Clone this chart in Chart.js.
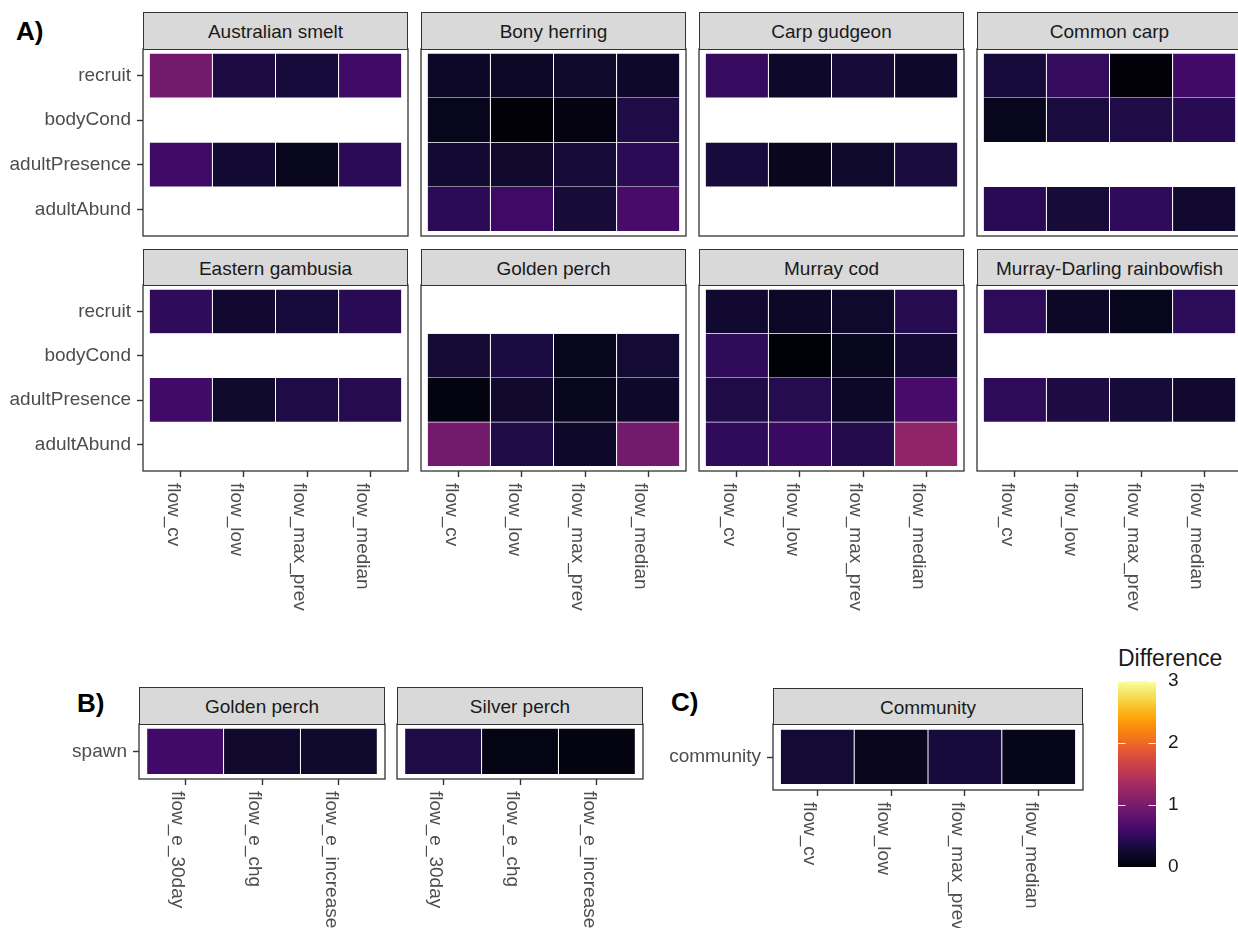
<!DOCTYPE html>
<html>
<head>
<meta charset="utf-8">
<script src="https://cdn.jsdelivr.net/npm/chart.js@4.4.1/dist/chart.umd.min.js"></script>
<style>
html,body{margin:0;padding:0;background:#fff;}
body{width:1238px;height:928px;position:relative;overflow:hidden;font-family:"Liberation Sans",Arial,sans-serif;}
.strip{position:absolute;box-sizing:border-box;background:#d9d9d9;border:1px solid #333;color:#1a1a1a;font-size:19px;text-align:center;white-space:nowrap;padding-top:1px;}
.tag{position:absolute;font-weight:bold;font-size:26px;line-height:26px;color:#000;}
.legtitle{position:absolute;font-size:23px;line-height:23px;color:#1a1a1a;white-space:nowrap;}
canvas{position:absolute;}
</style>
</head>
<body>
<script>
// ---------------- data ----------------
const flowVars = ['flow_cv', 'flow_low', 'flow_max_prev', 'flow_median'];
const responseRows = ['recruit', 'bodyCond', 'adultPresence', 'adultAbund'];
const spawnVars = ['flow_e_30day', 'flow_e_chg', 'flow_e_increase'];
const spawnRows = ['spawn'];
const communityRows = ['community'];
const legendTicks = [0, 1, 2, 3];

// rows: recruit, bodyCond, adultPresence, adultAbund ; cols: flow_cv, flow_low, flow_max_prev, flow_median
const australianSmelt = [[0.97, 0.36, 0.31, 0.58], [null, null, null, null], [0.58, 0.26, 0.12, 0.46], [null, null, null, null]];
const bonyHerring = [[0.19, 0.17, 0.21, 0.20], [0.12, 0.03, 0.07, 0.37], [0.26, 0.22, 0.30, 0.46], [0.46, 0.58, 0.30, 0.64]];
const carpGudgeon = [[0.53, 0.20, 0.30, 0.20], [null, null, null, null], [0.31, 0.13, 0.23, 0.32], [null, null, null, null]];
const commonCarp = [[0.31, 0.52, 0.03, 0.60], [0.12, 0.32, 0.37, 0.44], [null, null, null, null], [0.45, 0.30, 0.50, 0.24]];
const easternGambusia = [[0.50, 0.24, 0.31, 0.45], [null, null, null, null], [0.59, 0.21, 0.37, 0.43], [null, null, null, null]];
const goldenPerchA = [[null, null, null, null], [0.27, 0.35, 0.12, 0.28], [0.06, 0.22, 0.14, 0.20], [0.97, 0.37, 0.20, 0.97]];
const murrayCod = [[0.24, 0.19, 0.23, 0.43], [0.49, 0.02, 0.14, 0.26], [0.37, 0.42, 0.19, 0.64], [0.50, 0.55, 0.40, 1.17]];
const mdRainbowfish = [[0.48, 0.19, 0.12, 0.47], [null, null, null, null], [0.48, 0.36, 0.30, 0.24], [null, null, null, null]];
// spawn: flow_e_30day, flow_e_chg, flow_e_increase
const goldenPerchSpawn = [[0.60, 0.22, 0.23]];
const silverPerchSpawn = [[0.37, 0.08, 0.06]];
// community
const communityVals = [[0.28, 0.13, 0.31, 0.11]];

// ---------------- colour scale (inferno, 0..3) ----------------
const INFERNO = ['#000004','#0a0722','#160b39','#290b55','#420a68','#570f6d','#6a176e','#7f1e6c','#932667','#a62c60','#bc3754',
                 '#cb4249','#dd513a','#e9602d','#f37819','#fa8b0d','#fca50a','#fbbb24','#f6d746','#f4eb72','#fcffa4'];
const LIMIT = 3;
function hexRgb(h){return [parseInt(h.slice(1,3),16),parseInt(h.slice(3,5),16),parseInt(h.slice(5,7),16)];}
function inferno(v){
  let t = Math.max(0, Math.min(1, v / LIMIT)) * (INFERNO.length - 1);
  const i = Math.min(INFERNO.length - 2, Math.floor(t)), f = t - i;
  const a = hexRgb(INFERNO[i]), b = hexRgb(INFERNO[i+1]);
  return 'rgb(' + a.map((c,k)=>Math.round(c + (b[k]-c)*f)).join(',') + ')';
}

const FONT = '"Liberation Sans", Arial, sans-serif';
Chart.defaults.font.family = FONT;

// ---------------- plugins ----------------
const panelBorder = {
  id: 'panelBorder',
  afterDraw(chart){
    const a = chart.chartArea, c = chart.ctx;
    c.save(); c.strokeStyle = '#333'; c.lineWidth = 1.3;
    c.strokeRect(a.left, a.top, a.right - a.left, a.bottom - a.top);
    c.restore();
  }
};
const rotatedXLabels = {
  id: 'rotatedXLabels',
  afterDraw(chart){
    const xs = chart.scales.x;
    if (!xs || !xs.options.display) return;
    const c = chart.ctx;
    c.save();
    c.font = '19px ' + FONT; c.fillStyle = '#4d4d4d';
    c.textAlign = 'left'; c.textBaseline = 'alphabetic';
    xs.ticks.forEach((t, i) => {
      const x = xs.getPixelForTick(i), y = chart.chartArea.bottom + 12;
      c.save(); c.translate(x, y); c.rotate(Math.PI / 2);
      c.fillText(t.label, 0, 13);
      c.restore();
    });
    c.restore();
  }
};

function zeroPad(s){ s.paddingTop = 0; s.paddingBottom = 0; s.paddingLeft = 0; s.paddingRight = 0; }

function addDiv(cls, text, css){
  const d = document.createElement('div');
  d.className = cls; d.textContent = text;
  Object.assign(d.style, css);
  document.body.appendChild(d);
  return d;
}

// ---------------- heatmap panel ----------------
function heatPanel(o){
  const yW = o.showY ? o.yAxisW : 0;
  const xH = o.showX ? 150 : 0;
  const padL = o.showY ? 0 : 2, padT = 2, padR = 2, padB = o.showX ? 0 : 2;
  const cLeft = o.left - yW - padL, cTop = o.top - padT;
  const W = padL + yW + o.width + padR, H = padT + (o.bottom - o.top) + xH + padB;
  const cv = document.createElement('canvas');
  cv.width = W; cv.height = H;
  cv.style.left = cLeft + 'px'; cv.style.top = cTop + 'px';
  document.body.appendChild(cv);

  // strip
  const sh = o.top - o.stripTop + 1;
  addDiv('strip', o.title, {left: o.left + 'px', top: o.stripTop + 'px', width: o.width + 'px', height: sh + 'px', lineHeight: (sh - 2) + 'px'});

  const datasets = o.rows.map((r, ri) => ({
    label: r,
    data: o.cols.map((c, ci) => ({x: ci, y: [ri - 0.5, ri + 0.5], v: o.values[ri][ci]})).filter(d => d.v !== null),
    backgroundColor: ctx => (ctx.raw ? inferno(ctx.raw.v) : 'rgba(0,0,0,0)'),
    borderColor: 'rgba(255,255,255,0.28)',
    borderWidth: 0.5,
    barPercentage: 1, categoryPercentage: 1, grouped: false, inflateAmount: 0
  })).filter(ds => ds.data.length);

  new Chart(cv, {
    type: 'bar',
    data: {datasets},
    options: {
      responsive: false, maintainAspectRatio: false, animation: false, devicePixelRatio: 1, events: [],
      layout: {padding: {left: padL, top: padT, right: padR, bottom: padB}},
      plugins: {legend: {display: false}, tooltip: {enabled: false}},
      scales: {
        x: {
          type: 'linear', display: o.showX, offset: false, min: -0.6, max: o.cols.length - 0.4,
          afterBuildTicks: s => { s.ticks = o.cols.map((_, i) => ({value: i})); },
          afterFit: s => { s.height = xH; zeroPad(s); },
          ticks: {autoSkip: false, maxRotation: 0, color: 'rgba(0,0,0,0)', callback: v => o.cols[v], font: {size: 19}},
          grid: {offset: false, drawOnChartArea: false, drawTicks: true, tickLength: 6, tickColor: '#333', tickWidth: 1.4, color: '#333'},
          border: {display: false}
        },
        y: {
          type: 'linear', display: o.showY, offset: false, reverse: true, min: -0.6, max: o.rows.length - 0.4,
          afterBuildTicks: s => { s.ticks = o.rows.map((_, i) => ({value: i})); },
          afterFit: s => { s.width = yW; zeroPad(s); },
          ticks: {autoSkip: false, color: '#4d4d4d', padding: 6, callback: v => o.rows[v], font: {size: 19}},
          grid: {offset: false, drawOnChartArea: false, drawTicks: true, tickLength: 6, tickColor: '#333', tickWidth: 1.4, color: '#333'},
          border: {display: false}
        }
      }
    },
    plugins: [panelBorder, rotatedXLabels]
  });
}

// ---------------- layout ----------------
const A_LEFTS = [143, 421, 699, 977];
const A_W = 265;
const A_BANDS = [{stripTop: 12, top: 49, bottom: 236}, {stripTop: 249, top: 285, bottom: 471}];
const A_PANELS = [
  ['Australian smelt', australianSmelt], ['Bony herring', bonyHerring], ['Carp gudgeon', carpGudgeon], ['Common carp', commonCarp],
  ['Eastern gambusia', easternGambusia], ['Golden perch', goldenPerchA], ['Murray cod', murrayCod], ['Murray-Darling rainbowfish', mdRainbowfish]
];
A_PANELS.forEach(([title, vals], k) => {
  const r = Math.floor(k / 4), c = k % 4, band = A_BANDS[r];
  heatPanel({title, values: vals, rows: responseRows, cols: flowVars,
    left: A_LEFTS[c], width: A_W, stripTop: band.stripTop, top: band.top, bottom: band.bottom,
    showY: c === 0, yAxisW: 143, showX: r === 1});
});

const B_PANELS = [['Golden perch', goldenPerchSpawn, 139], ['Silver perch', silverPerchSpawn, 397]];
B_PANELS.forEach(([title, vals, left], k) => {
  heatPanel({title, values: vals, rows: spawnRows, cols: spawnVars,
    left, width: 246, stripTop: 687, top: 724, bottom: 779,
    showY: k === 0, yAxisW: 139, showX: true});
});

heatPanel({title: 'Community', values: communityVals, rows: communityRows, cols: flowVars,
  left: 773, width: 310, stripTop: 688, top: 724, bottom: 790, showY: true, yAxisW: 140, showX: true});

addDiv('tag', 'A)', {left: '16px', top: '18px'});
addDiv('tag', 'B)', {left: '77px', top: '690px'});
addDiv('tag', 'C)', {left: '671px', top: '689px'});

// ---------------- colour bar legend ----------------
addDiv('legtitle', 'Difference', {left: '1118px', top: '647px'});
(function(){
  const barL = 1118, barW = 38, top = 681, bottom = 867, padTB = 14, axisW = 60;
  const cv = document.createElement('canvas');
  cv.width = barW + axisW; cv.height = (bottom - top) + 2 * padTB;
  cv.style.left = barL + 'px'; cv.style.top = (top - padTB) + 'px';
  document.body.appendChild(cv);
  const ticksPlugin = {
    id: 'cbTicks',
    afterDatasetsDraw(chart){
      const ys = chart.scales.y, a = chart.chartArea, c = chart.ctx;
      c.save(); c.strokeStyle = 'rgba(255,255,255,0.9)'; c.lineWidth = 1;
      legendTicks.forEach(v => {
        const y = Math.round(ys.getPixelForValue(v)) + 0.5;
        c.beginPath(); c.moveTo(a.left, y); c.lineTo(a.left + 7.5, y);
        c.moveTo(a.right - 7.5, y); c.lineTo(a.right, y); c.stroke();
      });
      c.restore();
    }
  };
  new Chart(cv, {
    type: 'bar',
    data: {labels: ['Difference'], datasets: [{
      data: [[legendTicks[0], legendTicks[legendTicks.length - 1]]],
      backgroundColor: ctx => {
        const ch = ctx.chart, ys = ch.scales.y;
        if (!ch.chartArea || !ys) return '#000';
        const g = ch.ctx.createLinearGradient(0, ys.getPixelForValue(0), 0, ys.getPixelForValue(LIMIT));
        INFERNO.forEach((col, i) => g.addColorStop(i / (INFERNO.length - 1), col));
        return g;
      },
      borderWidth: 0, barPercentage: 1, categoryPercentage: 1, inflateAmount: 0
    }]},
    options: {
      responsive: false, maintainAspectRatio: false, animation: false, devicePixelRatio: 1, events: [],
      layout: {padding: {left: 0, top: padTB, right: 0, bottom: padTB}},
      plugins: {legend: {display: false}, tooltip: {enabled: false}},
      scales: {
        x: {display: false},
        y: {
          position: 'right', min: 0, max: LIMIT,
          afterBuildTicks: s => { s.ticks = legendTicks.map(v => ({value: v})); },
          afterFit: s => { s.width = axisW; zeroPad(s); },
          ticks: {color: '#1a1a1a', padding: 12, font: {size: 19}},
          grid: {display: false, drawTicks: false},
          border: {display: false}
        }
      }
    },
    plugins: [ticksPlugin]
  });
})();
</script>
</body>
</html>
